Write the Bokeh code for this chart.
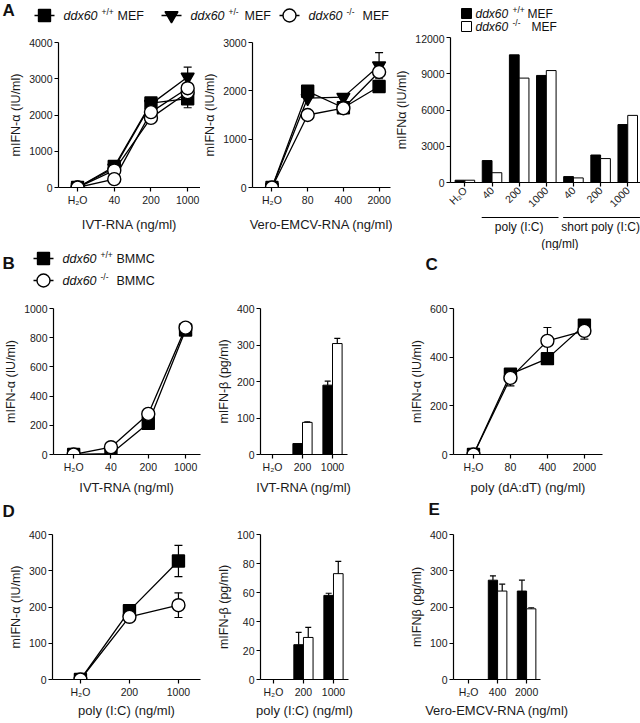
import math
from bokeh.plotting import figure
from bokeh.models import Range1d, FixedTicker, ColumnDataSource, Whisker, TeeHead
from bokeh.layouts import row, column
from bokeh.embed import file_html
from bokeh.resources import INLINE
from bokeh.core.properties import value

FONT = "Liberation Sans"

# ---------------- data ----------------
a1_labels = ["H₂O", "40", "200", "1000"]
a1_wt = [0, 580, 2330, 2450]
a1_wt_err = [0, 0, 0, 250]
a1_het = [0, 540, 2300, 3050]
a1_het_err = [0, 0, 0, 270]
a1_ko = [0, 230, 2080, 2740]
a1_ko_b = [0, 470, 1920, 2630]

a2_labels = ["H₂O", "80", "400", "2000"]
a2_wt = [0, 1990, 1650, 2090]
a2_het = [0, 1850, 1870, 2520]
a2_het_err = [0, 0, 0, 270]
a2_ko = [0, 1500, 1640, 2390]

a3_labels = ["H₂O", "40", "200", "1000", "40", "200", "1000"]
a3_groups = ["poly (I:C)", "short poly (I:C)"]
a3_group_idx = [[1, 2, 3], [4, 5, 6]]
a3_wt = [190, 1815, 10565, 8860, 490, 2275, 4795]
a3_ko = [190, 810, 8640, 9265, 380, 1980, 5555]

b1_labels = ["H₂O", "40", "200", "1000"]
b1_wt = [0, 5, 214, 853]
b1_ko = [0, 50, 278, 869]

b2_labels = ["H₂O", "200", "1000"]
b2_wt = [0, 30, 190]
b2_wt_err = [0, 0, 11]
b2_ko = [0, 88, 304]
b2_ko_err = [0, 1.5, 14]

c_labels = ["H₂O", "80", "400", "2000"]
c_wt = [0, 330, 394, 531]
c_wt_err = [0, 15, 15, 12]
c_ko = [0, 315, 467, 508]
c_ko_err = [0, 33, 55, 34]

d1_labels = ["H₂O", "200", "1000"]
d1_wt = [0, 190, 327]
d1_wt_err = [0, 0, 43]
d1_ko = [0, 173, 205]
d1_ko_err = [0, 0, 34]

d2_labels = ["H₂O", "200", "1000"]
d2_wt = [0, 24, 58]
d2_wt_err = [0, 8.5, 1.5]
d2_ko = [0, 29, 73]
d2_ko_err = [0, 7, 8.5]

e_labels = ["H₂O", "400", "2000"]
e_wt = [0, 274, 244]
e_wt_err = [0, 12, 30]
e_ko = [0, 244, 195]
e_ko_err = [0, 19, 3]


# ---------------- helpers ----------------
def base_fig(w, h, mbl, mbr, mbt, mbb, xr, ytop, ystep, labels, ylabel, xlabel, xstand=6):
    p = figure(width=w, height=h, x_range=Range1d(*xr), y_range=Range1d(0, ytop),
               output_backend="svg", toolbar_location=None, title=None,
               min_border_left=mbl, min_border_right=mbr,
               min_border_top=mbt, min_border_bottom=mbb)
    p.outline_line_color = None
    p.grid.visible = False
    p.xaxis.ticker = FixedTicker(ticks=list(range(len(labels))))
    p.xaxis.major_label_overrides = {i: s for i, s in enumerate(labels)}
    p.yaxis.ticker = FixedTicker(ticks=list(range(0, ytop + 1, ystep)))
    p.axis.axis_line_color = "black"
    p.axis.axis_line_width = 1.2
    p.axis.major_tick_line_color = "black"
    p.axis.major_tick_line_width = 1.2
    p.axis.major_tick_out = 4
    p.axis.major_tick_in = 0
    p.axis.minor_tick_line_color = None
    p.axis.major_label_text_font = FONT
    p.axis.major_label_text_font_size = "10.5px"
    p.axis.major_label_text_color = "#1a1a1a"
    p.axis.major_label_standoff = 2
    p.axis.axis_label_text_font = FONT
    p.axis.axis_label_text_font_style = "normal"
    p.axis.axis_label_text_color = "#1a1a1a"
    p.yaxis.axis_label = ylabel
    p.yaxis.axis_label_standoff = 3
    p.yaxis.axis_label_text_font_size = "12.5px"
    if xlabel:
        p.xaxis.axis_label = xlabel
        p.xaxis.axis_label_standoff = xstand
        p.xaxis.axis_label_text_font_size = "13px"
    return p


def add_line(p, ys):
    p.line(list(range(len(ys))), ys, line_color="black", line_width=1.3)


def add_err(p, xs, ys, errs, head, both):
    keep = [i for i, e in enumerate(errs) if e > 0]
    if not keep:
        return
    src = ColumnDataSource(dict(
        base=[xs[i] for i in keep],
        lower=[(ys[i] - errs[i]) if both else ys[i] for i in keep],
        upper=[ys[i] + errs[i] for i in keep]))
    w = Whisker(source=src, base="base", lower="lower", upper="upper",
                line_color="black", line_width=1.2,
                upper_head=TeeHead(size=head, line_color="black", line_width=1.2),
                lower_head=TeeHead(size=head, line_color="black", line_width=1.2) if both else None)
    p.add_layout(w)


def add_markers(p, ys, marker, fill, size):
    p.scatter(list(range(len(ys))), ys, marker=marker, size=size,
              fill_color=fill, line_color="black", line_width=1.4)


def add_bars(p, ys, errs, offset, fill, width):
    xs = [i + offset for i in range(len(ys))]
    p.vbar(x=xs, top=ys, bottom=0, width=width, fill_color=fill,
           line_color="black", line_width=1)
    if errs is not None:
        add_err(p, xs, ys, errs, 6, False)


def strip(w, h, x_range=None, mbl=0, mbr=0):
    p = figure(width=w, height=h,
               x_range=x_range if x_range is not None else Range1d(0, w),
               y_range=Range1d(h, 0), output_backend="svg", toolbar_location=None,
               title=None, min_border_left=mbl, min_border_right=mbr,
               min_border_top=0, min_border_bottom=0,
               x_axis_location=None, y_axis_location=None)
    p.outline_line_color = None
    p.grid.visible = False
    return p


def txt(p, xs, ys, texts, size="12.5px", style="normal", align="left", baseline="middle"):
    p.text(x=xs, y=ys, text=texts, text_font=value(FONT), text_font_size=size,
           text_font_style=style, text_align=align, text_baseline=baseline,
           text_color="#111111")


def legend_items(p, mx, y, markers, fills, sizes, sups, suffix):
    for m, f, s, x, sup in zip(markers, fills, sizes, mx, sups):
        p.segment(x0=[x - 10], y0=[y], x1=[x + 10], y1=[y], line_color="black", line_width=1.3)
        p.scatter([x], [y], marker=m, size=s, fill_color=f, line_color="black", line_width=1.4)
        txt(p, [x + 19], [y], ["ddx60"], style="italic")
        txt(p, [x + 57], [y - 4], [sup], size="8.5px")
        txt(p, [x + 73], [y], [suffix])


def letter(p, x, y, s):
    txt(p, [x], [y], [s], size="17px", style="bold", baseline="top")


# ---------------- row 1 ----------------
hdr1 = strip(640, 34)
letter(hdr1, 2, 0, "A")
legend_items(hdr1, [44, 171, 289], 15,
             ["square", "inverted_triangle", "circle"], ["black", "black", "white"],
             [12, 13, 13], ["+/+", "+/-", "-/-"], "MEF")
for yy, f, sup, mx in [(13, "black", "+/+", 527), (26, "white", "-/-", 531)]:
    hdr1.scatter([466], [yy], marker="square", size=10, fill_color=f, line_color="black", line_width=1)
    txt(hdr1, [475], [yy], ["ddx60"], size="12px", style="italic")
    txt(hdr1, [512], [yy - 4], [sup], size="8.5px")
    txt(hdr1, [mx], [yy], ["MEF"], size="12px")

a1 = base_fig(200, 216, 58, 0, 8, 62, (-0.52, 3.35), 4000, 1000, a1_labels,
              "mIFN-α (IU/ml)", "IVT-RNA (ng/ml)", xstand=8)
for ys in [a1_het, a1_wt, a1_ko, a1_ko_b]:
    add_line(a1, ys)
add_err(a1, list(range(4)), a1_het, a1_het_err, 8, True)
add_err(a1, list(range(4)), a1_wt, a1_wt_err, 8, True)
add_markers(a1, a1_het, "inverted_triangle", "black", 13)
add_markers(a1, a1_wt, "square", "black", 12)
add_markers(a1, a1_ko_b, "circle", "white", 13)
add_markers(a1, a1_ko, "circle", "white", 13)

a2 = base_fig(192, 216, 48, 2, 8, 63, (-0.545, 3.32), 3000, 1000, a2_labels,
              "mIFN-α (IU/ml)", "Vero-EMCV-RNA (ng/ml)", xstand=8)
for ys in [a2_het, a2_wt, a2_ko]:
    add_line(a2, ys)
add_err(a2, list(range(4)), a2_het, a2_het_err, 8, True)
add_markers(a2, a2_het, "inverted_triangle", "black", 13)
add_markers(a2, a2_wt, "square", "black", 12)
add_markers(a2, a2_ko, "circle", "white", 13)

a3 = base_fig(248, 182, 50, 0, 3, 31, (-0.53, 6.47), 12000, 3000, a3_labels,
              "mIFNα (IU/ml)", None)
a3.xaxis.major_label_orientation = math.pi / 4
add_bars(a3, a3_wt, None, -0.18, "black", 0.36)
add_bars(a3, a3_ko, None, 0.18, "white", 0.36)

brk = strip(248, 34, x_range=a3.x_range, mbl=50, mbr=0)
brk.segment(x0=[min(g) - 0.38 for g in a3_group_idx], y0=[1, 1],
            x1=[max(g) + 0.45 for g in a3_group_idx], y1=[1, 1],
            line_color="black", line_width=1)
txt(brk, [sum(g) / len(g) for g in a3_group_idx], [10, 10], a3_groups, size="12px", align="center")
all_idx = [i for g in a3_group_idx for i in g]
txt(brk, [(min(all_idx) + max(all_idx)) / 2], [27], ["(ng/ml)"], size="12px", align="center")

row1 = column(hdr1, row(a1, a2, column(a3, brk)))

# ---------------- row 2 ----------------
hdr2 = strip(640, 42)
letter(hdr2, 2, 3, "B")
letter(hdr2, 425, 4, "C")
legend_items(hdr2, [43], 8, ["square"], ["black"], [12], ["+/+"], "BMMC")
legend_items(hdr2, [43], 30, ["circle"], ["white"], [13], ["-/-"], "BMMC")

b1 = base_fig(208, 205, 53, 8, 15, 42, (-0.54, 3.4), 1000, 200, b1_labels,
              "mIFN-α (IU/ml)", "IVT-RNA (ng/ml)", xstand=4)
add_line(b1, b1_wt)
add_line(b1, b1_ko)
add_markers(b1, b1_wt, "square", "black", 12)
add_markers(b1, b1_ko, "circle", "white", 13)

b2 = base_fig(192, 205, 52, 53, 16, 43, (-0.4, 2.5), 400, 100, b2_labels,
              "mIFN-β (pg/ml)", "IVT-RNA (ng/ml)", xstand=4)
add_bars(b2, b2_wt, b2_wt_err, -0.16, "black", 0.32)
add_bars(b2, b2_ko, b2_ko_err, 0.16, "white", 0.32)

cc = base_fig(240, 205, 53, 38, 16, 43, (-0.54, 3.49), 600, 200, c_labels,
              "mIFN-α (IU/ml)", "poly (dA:dT) (ng/ml)", xstand=4)
add_line(cc, c_wt)
add_line(cc, c_ko)
add_err(cc, list(range(4)), c_wt, c_wt_err, 8, True)
add_err(cc, list(range(4)), c_ko, c_ko_err, 8, True)
add_markers(cc, c_wt, "square", "black", 12)
add_markers(cc, c_ko, "circle", "white", 13)

row2 = column(hdr2, row(b1, b2, cc))

# ---------------- row 3 ----------------
hdr3 = strip(640, 23)
letter(hdr3, 2, 4, "D")
letter(hdr3, 428, 2, "E")

d1 = base_fig(208, 200, 52, 8, 12, 40, (-0.57, 2.45), 400, 100, d1_labels,
              "mIFN-α (IU/ml)", "poly (I:C) (ng/ml)", xstand=2)
add_line(d1, d1_wt)
add_line(d1, d1_ko)
add_err(d1, list(range(3)), d1_wt, d1_wt_err, 8, True)
add_err(d1, list(range(3)), d1_ko, d1_ko_err, 8, True)
add_markers(d1, d1_wt, "square", "black", 12)
add_markers(d1, d1_ko, "circle", "white", 13)

d2 = base_fig(192, 200, 52, 52, 9, 40, (-0.43, 2.5), 100, 20, d2_labels,
              "mIFN-β (pg/ml)", "poly (I:C) (ng/ml)", xstand=2)
add_bars(d2, d2_wt, d2_wt_err, -0.16, "black", 0.32)
add_bars(d2, d2_ko, d2_ko_err, 0.16, "white", 0.32)

ee = base_fig(240, 200, 53, 100, 14, 40, (-0.52, 2.48), 400, 100, e_labels,
              "mIFNβ (pg/ml)", "Vero-EMCV-RNA (ng/ml)", xstand=2)
add_bars(ee, e_wt, e_wt_err, -0.16, "black", 0.32)
add_bars(ee, e_ko, e_ko_err, 0.16, "white", 0.32)

row3 = column(hdr3, row(d1, d2, ee))

layout = column(row1, row2, row3)
open("out.html", "w").write(file_html(layout, INLINE))
